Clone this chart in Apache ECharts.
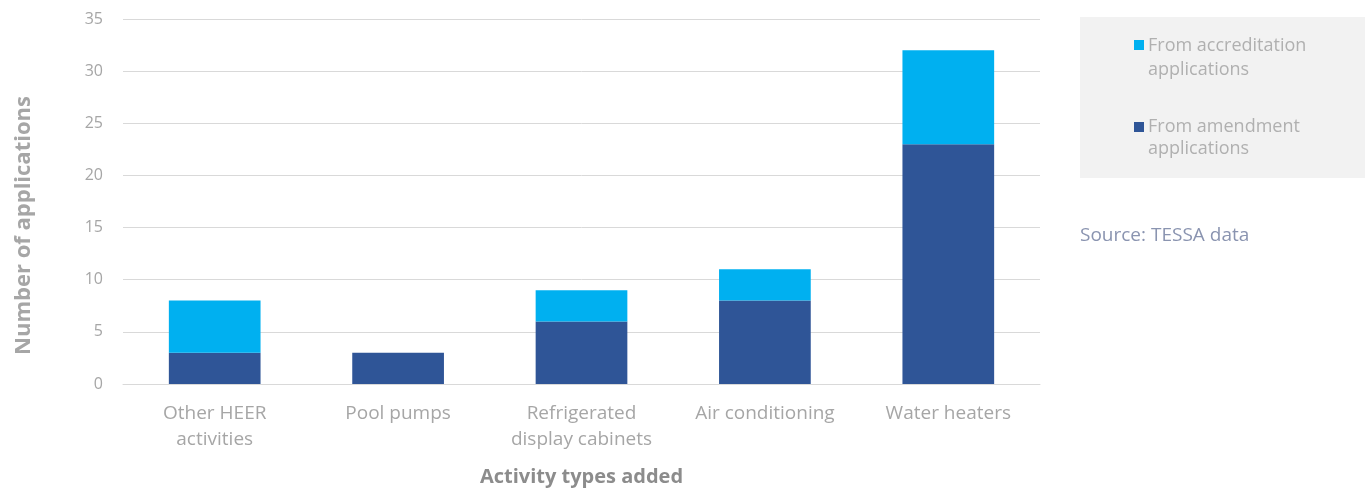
<!DOCTYPE html>
<html>
<head>
<meta charset="utf-8">
<script src="https://cdn.jsdelivr.net/npm/echarts@6/dist/echarts.min.js"></script>
<style>
  html, body { margin: 0; padding: 0; background: #fff; }
  #chart { width: 1368px; height: 492px; }
</style>
</head>
<body>
<div id="chart"></div>
<script>
// Activity types added, split by application source
const categories = ['Other HEER\nactivities', 'Pool pumps', 'Refrigerated\ndisplay cabinets', 'Air conditioning', 'Water heaters'];
const amendment = [3, 3, 6, 8, 23];
const accreditation = [5, 0, 3, 3, 9];
const yTicks = [0, 5, 10, 15, 20, 25, 30, 35];

const seriesNames = ['From amendment\napplications', 'From accreditation\napplications'];
const colors = { amendment: '#2f5597', accreditation: '#00b0f0' };
const font = '"Open Sans", Lato, sans-serif';
const labelGrey = '#a6a6a6';

const chart = echarts.init(document.getElementById('chart'), null, { renderer: 'canvas' });

chart.setOption({
  animation: false,
  backgroundColor: '#ffffff',
  grid: { left: 123, right: 328, top: 19, bottom: 106, containLabel: false },
  xAxis: {
    type: 'category',
    data: categories,
    axisLine: { show: true, lineStyle: { color: '#d9d9d9', width: 1 } },
    axisTick: { show: false },
    axisLabel: {
      color: labelGrey, fontFamily: font, fontSize: 19, lineHeight: 26,
      margin: 17, interval: 0
    },
    name: 'Activity types added',
    nameLocation: 'middle',
    nameGap: 83,
    nameTextStyle: { color: '#8c8c8c', fontFamily: font, fontSize: 20, fontWeight: 'bold' }
  },
  yAxis: {
    type: 'value',
    min: yTicks[0],
    max: yTicks[yTicks.length - 1],
    interval: 5,
    axisLine: { show: false },
    axisTick: { show: false },
    splitLine: { lineStyle: { color: '#d9d9d9', width: 1 } },
    axisLabel: { color: labelGrey, fontFamily: font, fontSize: 16, margin: 20 },
    name: 'Number of applications',
    nameLocation: 'middle',
    nameGap: 88,
    nameRotate: 90,
    nameTextStyle: {
      color: labelGrey, fontFamily: font, fontSize: 22, fontWeight: 'bold',
      padding: [0, 48, 0, 0]
    }
  },
  series: [
    {
      name: seriesNames[0], type: 'bar', stack: 'total', barWidth: '50%',
      itemStyle: { color: colors.amendment },
      data: amendment
    },
    {
      name: seriesNames[1], type: 'bar', stack: 'total', barWidth: '50%',
      itemStyle: { color: colors.accreditation },
      data: accreditation.map(v => (v === 0 ? null : v))
    }
  ],
  graphic: [
    { type: 'rect', left: 1080, top: 17, shape: { width: 285, height: 161 }, style: { fill: '#f2f2f2' }, silent: true },
    { type: 'rect', left: 1134, top: 40, shape: { width: 10, height: 10 }, style: { fill: colors.accreditation } },
    { type: 'text', left: 1148, top: 34, style: { text: seriesNames[1], fill: '#b0b0b0', font: '18px ' + font, lineHeight: 24 } },
    { type: 'rect', left: 1134, top: 122, shape: { width: 10, height: 10 }, style: { fill: colors.amendment } },
    { type: 'text', left: 1148, top: 116, style: { text: seriesNames[0], fill: '#b0b0b0', font: '18px ' + font, lineHeight: 22 } },
    { type: 'text', left: 1080, top: 226, style: { text: 'Source: TESSA data', fill: '#8a94b0', font: '19px ' + font } }
  ]
});
</script>
</body>
</html>
